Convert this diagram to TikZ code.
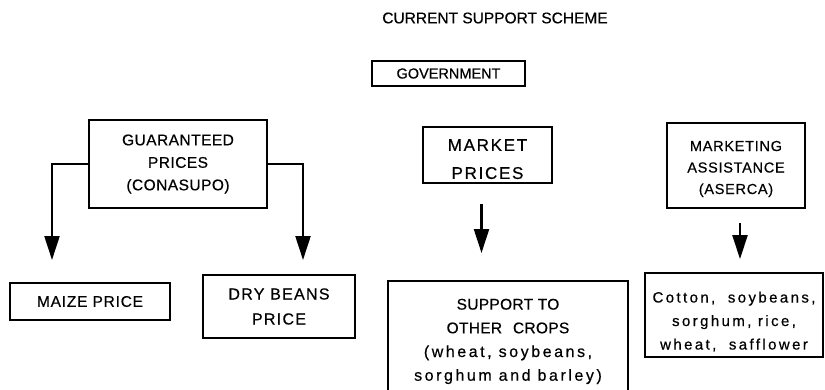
\documentclass[tikz,border=0pt]{standalone}
\usepackage{fontspec}
\setmainfont[FakeBold=0.5]{Liberation Sans}
\usetikzlibrary{arrows.meta}

% size, line skip, letter space
\newcommand\handfont[3]{\fontsize{#1}{#2}\selectfont\addfontfeature{LetterSpace=#3}}

\tikzset{
    box/.style={draw, line width=1.8pt, align=center, inner sep=0pt},
    arr/.style={line width=2.2pt, -{Triangle[length=24pt, width=15pt]}},
}

\begin{document}
\begin{tikzpicture}[x=1pt, y=-1pt]

        \useasboundingbox (0, 0) rectangle (825, 389);
        \clip (0, 0) rectangle (825, 389);

        \node[font=\handfont{15.5}{18}{0}] (title) at (495, 18) {CURRENT SUPPORT SCHEME};

        % top row
        \node[box, minimum width=153pt, minimum height=25pt, font=\handfont{14.5}{17}{0}] (gov) at (448.5, 73.5) {GOVERNMENT};

        \node[box, minimum width=178pt, minimum height=88pt, font=\handfont{15.5}{22.5}{3}] (guar) at (178, 164) {GUARANTEED\\PRICES\\(CONASUPO)};
        \node[box, minimum width=129pt, minimum height=56pt, font=\handfont{17}{28}{10}] (mkt) at (487.5, 155) {\rule{0pt}{20pt}MARKET\\PRICES};
        \node[box, minimum width=138pt, minimum height=85pt, font=\handfont{14.5}{21.5}{5}] (aser) at (736, 165.5) {\rule{0pt}{17pt}MARKETING\\ASSISTANCE\\(ASERCA)};

        % bottom row
        \node[box, minimum width=160pt, minimum height=37pt, font=\handfont{15.5}{17}{5}] (maize) at (90, 301.5) {MAIZE PRICE};
        \node[box, minimum width=152pt, minimum height=63pt, font=\handfont{16}{25}{8}] (beans) at (279, 306.5) {DRY BEANS\\PRICE};
        \node[box, minimum width=240pt, minimum height=121pt, anchor=north, font=\handfont{15.5}{23.7}{2}] (sup) at (508, 280) {SUPPORT TO\\OTHER\hspace{0.7em}CROPS\\{\handfont{16}{23.7}{16}(wheat, soybeans,}\\{\handfont{16}{23.7}{16}sorghum and barley)}};
        \node[box, minimum width=178pt, minimum height=84pt, font=\handfont{15}{23.5}{16}] (cot) at (734, 315) {\rule{0pt}{24pt}Cotton,\hspace{0.4em} soybeans,\\sorghum, rice,\\wheat,\hspace{0.4em} safflower};

        \coordinate (mzin) at (52, 283);
        \coordinate (bnin) at (303, 275);

        % connectors
        \draw[arr, shorten >=23pt] (guar.west) -| (mzin);
        \draw[arr, shorten >=15pt] (guar.east) -| (bnin);
        \draw[arr, shorten <=20pt, shorten >=27pt] ([xshift=-6pt]mkt.south) -- ([xshift=-6pt]mkt.south |- sup.north);
        \draw[arr, shorten <=14pt, shorten >=13pt] ([xshift=4pt]aser.south) -- ([xshift=4pt]aser.south |- cot.north);

    \end{tikzpicture}
\end{document}
